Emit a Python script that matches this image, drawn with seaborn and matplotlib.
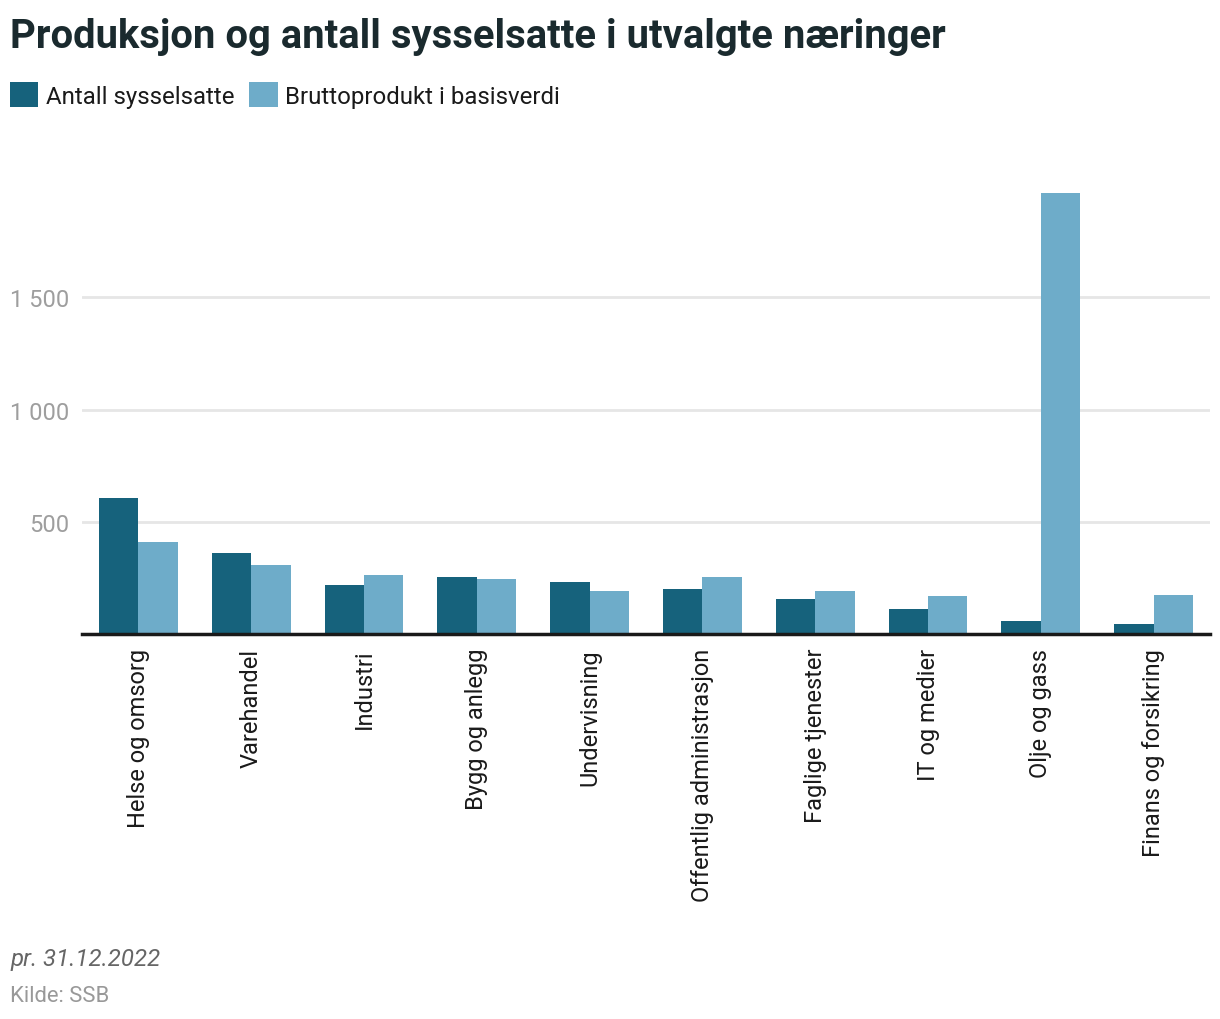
import matplotlib
matplotlib.use("Agg")
import matplotlib.pyplot as plt
import seaborn as sns
import pandas as pd

categories = ["Helse og omsorg", "Varehandel", "Industri", "Bygg og anlegg",
              "Undervisning", "Offentlig administrasjon", "Faglige tjenester",
              "IT og medier", "Olje og gass", "Finans og forsikring"]
antall_sysselsatte = [607, 362, 220, 255, 233, 202, 156, 111, 58, 45]
bruttoprodukt = [411, 309, 264, 246, 193, 255, 192, 169, 1964, 174]
series_names = ["Antall sysselsatte", "Bruttoprodukt i basisverdi"]
y_ticks = [500, 1000, 1500]
y_tick_labels = ["500", "1 000", "1 500"]

df = pd.DataFrame({
    "Næring": categories * 2,
    "Verdi": antall_sysselsatte + bruttoprodukt,
    "Serie": [series_names[0]] * len(categories) + [series_names[1]] * len(categories),
})

sns.set_theme(style="white")
plt.rcParams['font.family'] = ['Roboto', 'DejaVu Sans']

dark = "#16627C"
light = "#6EACC9"

fig = plt.figure(figsize=(12.2, 10.2), dpi=100)
ax = fig.add_axes([82 / 1220, 1 - 635 / 1020, (1210 - 82) / 1220, (635 - 186) / 1020])

sns.barplot(data=df, x="Næring", y="Verdi", hue="Serie", palette=[dark, light],
            width=0.7, saturation=1, ax=ax, legend=True, linewidth=0, edgecolor="none")

ax.set_xlim(-0.5, len(categories) - 0.5)
ax.set_ylim(0, 2000)
ax.set_yticks(y_ticks)
ax.set_yticklabels(y_tick_labels)
ax.set_xlabel("")
ax.set_ylabel("")
ax.grid(axis="y", color="#e6e6e6", linewidth=2)
ax.set_axisbelow(True)
for s in ["top", "right", "left"]:
    ax.spines[s].set_visible(False)
ax.spines["bottom"].set_color("#1a1a1a")
ax.spines["bottom"].set_linewidth(2.5)
ax.tick_params(axis="y", length=0, pad=9, labelsize=17, labelcolor="#9e9e9e")
ax.tick_params(axis="x", length=0, pad=10, labelsize=17, labelcolor="#1a1a1a")
plt.setp(ax.get_xticklabels(), rotation=90, va="top", ha="center")
for lbl in ax.get_yticklabels():
    lbl.set_horizontalalignment("right")

handles, labels = ax.get_legend_handles_labels()
ax.get_legend().remove()
fig.legend(handles, labels, loc="center left", bbox_to_anchor=(10 / 1220, 1 - 96 / 1020),
           ncol=2, frameon=False, fontsize=17.3, handlelength=1.17, handleheight=1.17,
           handletextpad=0.33, columnspacing=0.62, borderaxespad=0, borderpad=0,
           labelcolor="#1a1a1a")

fig.text(10 / 1220, 1 - 37 / 1020, "Produksjon og antall sysselsatte i utvalgte næringer",
         fontsize=28.8, fontweight="bold", color="#1a2a2e", va="center", ha="left")
fig.text(10 / 1220, 1 - 960 / 1020, "pr. 31.12.2022", fontsize=17.3, fontstyle="italic",
         color="#666666", va="center", ha="left")
fig.text(10 / 1220, 1 - 997 / 1020, "Kilde: SSB", fontsize=15.8, color="#999999",
         va="center", ha="left")

fig.savefig("out.png", dpi=100)
